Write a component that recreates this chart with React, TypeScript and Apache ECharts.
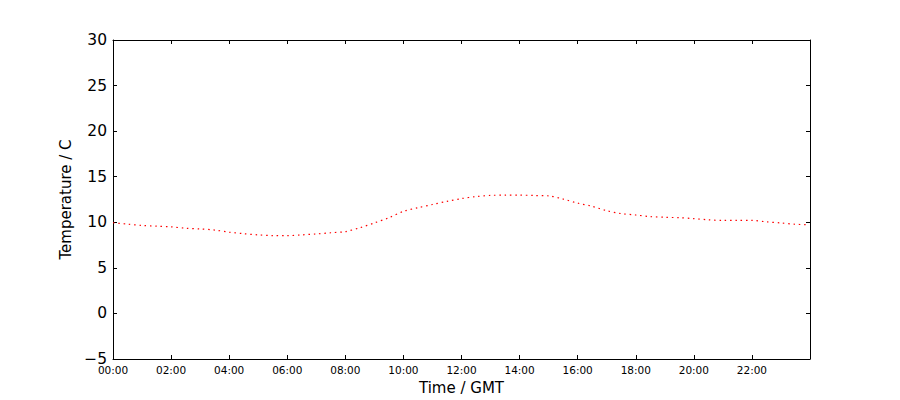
import * as echarts from 'echarts';
import { useEffect, useRef } from 'react';

// hours since midnight, every half hour
const hours = [
  0, 0.5, 1, 1.5, 2, 2.5, 3, 3.5, 4, 4.5, 5, 5.5, 6, 6.5, 7, 7.5, 8, 8.5, 9, 9.5,
  10, 10.5, 11, 11.5, 12, 12.5, 13, 13.5, 14, 14.5, 15, 15.5, 16, 16.5, 17, 17.5,
  18, 18.5, 19, 19.5, 20, 20.5, 21, 21.5, 22, 22.5, 23, 23.5, 23.85,
];
const temperature = [
  9.95, 9.8, 9.65, 9.57, 9.5, 9.35, 9.27, 9.15, 8.92, 8.75, 8.62, 8.54, 8.53, 8.62, 8.72, 8.85,
  8.98, 9.4, 9.93, 10.5, 11.2, 11.6, 11.95, 12.3, 12.6, 12.82, 12.95, 12.98, 12.98, 12.94,
  12.9, 12.55, 12.1, 11.75, 11.27, 10.95, 10.8, 10.62, 10.55, 10.5, 10.4, 10.27, 10.2, 10.2,
  10.2, 10.05, 9.93, 9.78, 9.74,
];
const yTicks = { min: -5, max: 30, step: 5 };
const xTicks = { min: 0, max: 24, step: 2 };

const FONT = '"DejaVu Sans", sans-serif';

const fmtHour = (v: number) => (v >= 24 ? '' : `${String(v).padStart(2, '0')}:00`);

export default function App() {
  const chartRef = useRef<HTMLDivElement>(null);

  useEffect(() => {
    document.body.style.margin = '0';
    if (!chartRef.current) return;
    const chart = echarts.init(chartRef.current, undefined, { renderer: 'svg' });

    // matplotlib-like frame: black box, short ticks pointing inward on all four sides
    const line = { show: true, onZero: false, lineStyle: { color: '#000', width: 1 } };
    const tick = { inside: true, length: 4, lineStyle: { color: '#000', width: 1 } };

    chart.setOption({
      animation: false,
      backgroundColor: '#fff',
      grid: { left: 113, right: 90, top: 40, bottom: 40 },
      xAxis: [
        {
          type: 'value',
          min: xTicks.min,
          max: xTicks.max,
          interval: xTicks.step,
          position: 'bottom',
          name: 'Time / GMT',
          nameLocation: 'middle',
          nameGap: 21,
          nameTextStyle: { fontFamily: FONT, fontSize: 15, color: '#000' },
          axisLine: line,
          axisTick: tick,
          axisLabel: { fontFamily: FONT, fontSize: 10.5, color: '#000', margin: 5, formatter: fmtHour },
          splitLine: { show: false },
        },
        {
          type: 'value',
          min: xTicks.min,
          max: xTicks.max,
          interval: xTicks.step,
          position: 'top',
          axisLine: line,
          axisTick: tick,
          axisLabel: { show: false },
          splitLine: { show: false },
        },
      ],
      yAxis: [
        {
          type: 'value',
          min: yTicks.min,
          max: yTicks.max,
          interval: yTicks.step,
          position: 'left',
          name: 'Temperature / C',
          nameLocation: 'middle',
          nameGap: 38,
          nameTextStyle: { fontFamily: FONT, fontSize: 15, color: '#000' },
          axisLine: line,
          axisTick: tick,
          axisLabel: {
            fontFamily: FONT,
            fontSize: 15.5,
            color: '#000',
            margin: 6,
            formatter: (v: number) => String(v).replace('-', '\u2212'),
          },
          splitLine: { show: false },
        },
        {
          type: 'value',
          min: yTicks.min,
          max: yTicks.max,
          interval: yTicks.step,
          position: 'right',
          axisLine: line,
          axisTick: tick,
          axisLabel: { show: false },
          splitLine: { show: false },
        },
      ],
      series: [
        {
          type: 'line',
          data: hours.map((h, i) => [h, temperature[i]]),
          showSymbol: false,
          smooth: 0.3,
          lineStyle: { color: '#ff0000', width: 1.2, type: [1.5, 3.8] },
        },
      ],
    });

    return () => chart.dispose();
  }, []);

  return <div ref={chartRef} style={{ width: 900, height: 400 }} />;
}
